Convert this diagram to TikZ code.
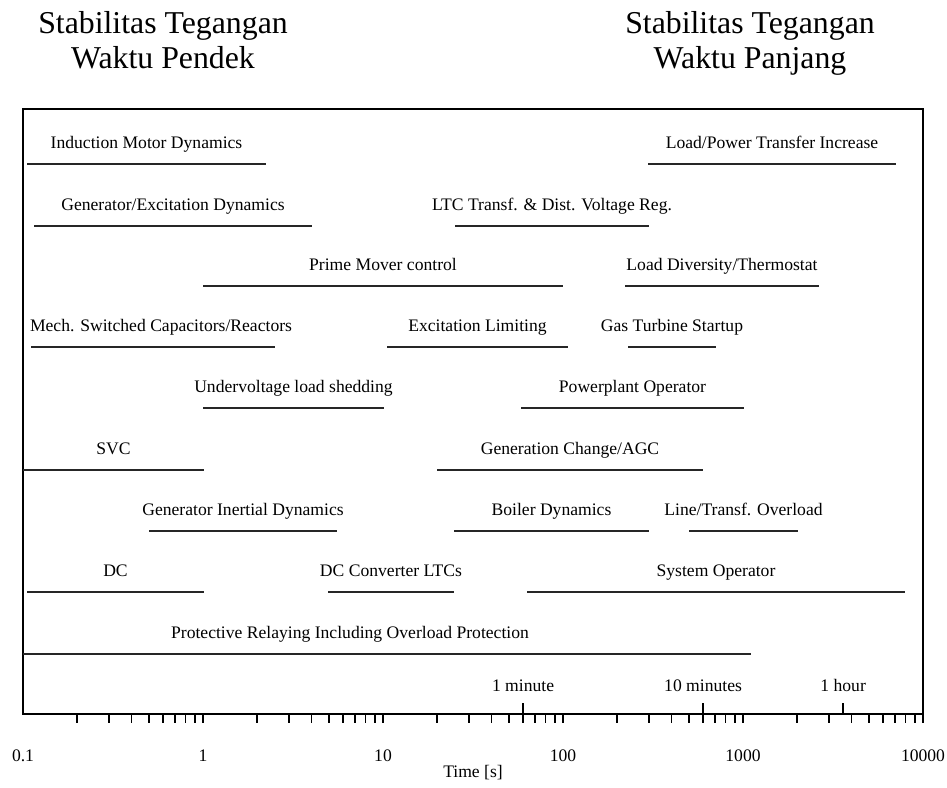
\documentclass[tikz,border=0pt]{standalone}
\usepackage{fontspec}
\setmainfont{Liberation Serif}
\begin{document}
\begin{tikzpicture}[x=0.5pt,y=-0.5pt,
  bar/.style={line width=1pt,draw=black!85},
  task/.style={font=\fontsize{8.8}{10}\selectfont,anchor=base,yshift=8pt,inner sep=0pt},
  axlbl/.style={font=\fontsize{8.8}{10}\selectfont,anchor=base,inner sep=0pt},
  title/.style={font=\fontsize{15.9}{17.5}\selectfont,align=center,anchor=north,inner sep=0pt}]
\useasboundingbox (0,0) rectangle (947,787);
% titles
\node[title] (short) at (163,11) {Stabilitas Tegangan\\Waktu Pendek};
\node[title] (long) at (750,11) {Stabilitas Tegangan\\Waktu Panjang};
% frame
\draw[line width=0.9pt] (23,109) rectangle (923,714);
%
% phenomena, one row after the other
\draw[bar] (27,164) -- (266,164) node[task,midway] (induction) {Induction Motor Dynamics};
\draw[bar] (648,164) -- (896,164) node[task,midway] (transfer) {Load/Power Transfer Increase};
\draw[bar] (34,226) -- (312,226) node[task,midway] (excitation) {Generator/Excitation Dynamics};
\draw[bar] (455,226) -- (649,226) node[task,midway] (ltc) {LTC Transf. \& Dist. Voltage Reg.};
\draw[bar] (203,286) -- (563,286) node[task,midway] (primemover) {Prime Mover control};
\draw[bar] (625,286) -- (819,286) node[task,midway] (diversity) {Load Diversity/Thermostat};
\draw[bar] (31,347) -- (275,347) node[task,midway,xshift=4pt] (capacitors) {Mech. Switched Capacitors/Reactors};
\draw[bar] (387,347) -- (568,347) node[task,midway] (limiting) {Excitation Limiting};
\draw[bar] (628,347) -- (716,347) node[task,midway] (gasturbine) {Gas Turbine Startup};
\draw[bar] (203,408) -- (384,408) node[task,midway] (shedding) {Undervoltage load shedding};
\draw[bar] (521,408) -- (744,408) node[task,midway] (powerplant) {Powerplant Operator};
\draw[bar] (23,470) -- (204,470) node[task,midway] (svc) {SVC};
\draw[bar] (437,470) -- (703,470) node[task,midway] (agc) {Generation Change/AGC};
\draw[bar] (149,531) -- (337,531) node[task,midway] (inertia) {Generator Inertial Dynamics};
\draw[bar] (454,531) -- (649,531) node[task,midway] (boiler) {Boiler Dynamics};
\draw[bar] (689,531) -- (798,531) node[task,midway] (overload) {Line/Transf. Overload};
\draw[bar] (27,592) -- (204,592) node[task,midway] (dc) {DC};
\draw[bar] (328,592) -- (454,592) node[task,midway] (converter) {DC Converter LTCs};
\draw[bar] (527,592) -- (905,592) node[task,midway] (sysop) {System Operator};
\draw[bar] (23,654) -- (751,654) node[task,midway,xshift=-18.5pt] (relaying) {Protective Relaying Including Overload Protection};
%
% log time axis, 180 px per decade
\foreach \d in {-1,...,3}
  \foreach \k in {2,...,10}
    \draw[line width=0.8pt] ({23+180*(\d+1+log10(\k))},714) -- ++(0,9);
\foreach \d/\t in {-1/0.1,0/1,1/10,2/100,3/1000,4/10000}
  \node[axlbl] (tick\d) at ({23+180*(\d+1)},761) {\t};
\foreach \s/\t [count=\i] in {60/1 minute,600/10 minutes,3600/1 hour}{
  \draw[line width=0.8pt] ({23+180*(log10(\s)+1)},714) -- ++(0,-11);
  \node[axlbl] (clock\i) at ({23+180*(log10(\s)+1)},691) {\t};
}
\node[axlbl] (timelabel) at (473,777) {Time [s]};
\end{tikzpicture}
\end{document}
